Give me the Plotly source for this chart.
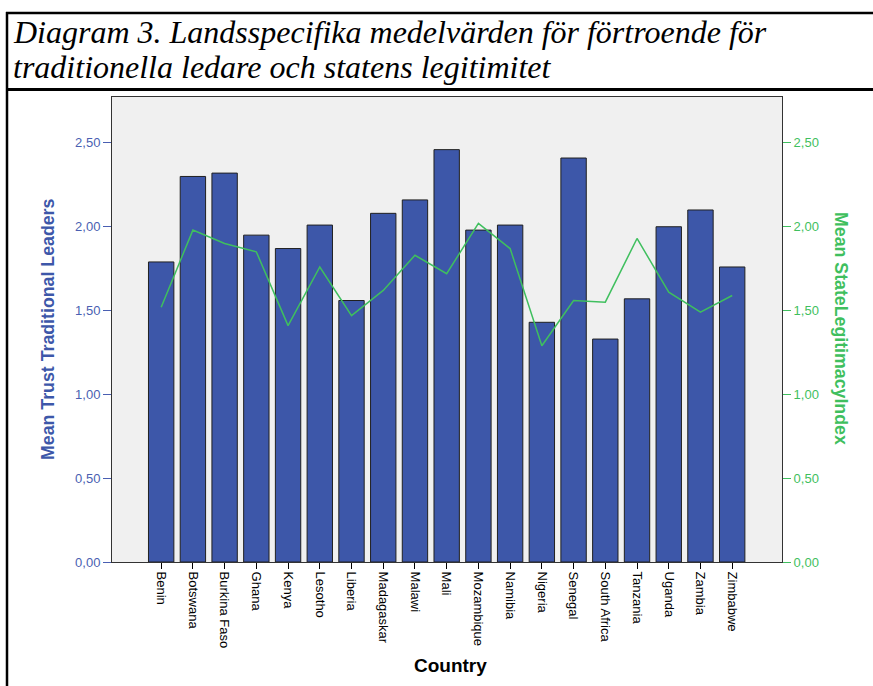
import plotly.graph_objects as go

countries = ["Benin", "Botswana", "Burkina Faso", "Ghana", "Kenya", "Lesotho", "Liberia",
             "Madagaskar", "Malawi", "Mali", "Mozambique", "Namibia", "Nigeria", "Senegal",
             "South Africa", "Tanzania", "Uganda", "Zambia", "Zimbabwe"]
trust_traditional = [1.79, 2.30, 2.32, 1.95, 1.87, 2.01, 1.56, 2.08, 2.16, 2.46,
                     1.98, 2.01, 1.43, 2.41, 1.33, 1.57, 2.00, 2.10, 1.76]
state_legitimacy = [1.52, 1.98, 1.90, 1.85, 1.41, 1.76, 1.47, 1.62, 1.83, 1.72,
                    2.02, 1.87, 1.29, 1.56, 1.55, 1.93, 1.61, 1.49, 1.59]
tick_vals = [0, 0.5, 1.0, 1.5, 2.0, 2.5]
tick_text = ["0,00", "0,50", "1,00", "1,50", "2,00", "2,50"]

W, H = 873, 686
L, R, T, B = 112, 91, 97, 124
PW = W - L - R
PH = H - T - B


def px2x(px):
    return (px - L) / PW


def py2y(py):
    return (H - B - py) / PH


BLUE = "#3d57a9"
BLUE_TXT = "#4a5fb2"
GREEN = "#3fbf5e"

fig = go.Figure()
fig.add_trace(go.Bar(
    x=countries, y=trust_traditional,
    marker=dict(color=BLUE, line=dict(color="#202020", width=1)),
    width=0.8, yaxis="y", showlegend=False,
))
fig.add_trace(go.Scatter(
    x=countries, y=state_legitimacy, mode="lines",
    line=dict(color=GREEN, width=1.5), yaxis="y2", showlegend=False,
))

yr = [0, 2.774]
fig.update_layout(
    width=W, height=H,
    margin=dict(l=L, r=R, t=T, b=B, autoexpand=False),
    paper_bgcolor="white", plot_bgcolor="#f0f0f0",
    font=dict(family="Liberation Sans, Arial", size=12, color="black"),
    xaxis=dict(
        range=[-1.55, 18 + 1.57], tickangle=90, ticks="outside", ticklen=6,
        tickcolor="black", showline=True, linecolor="#333333", linewidth=1,
        mirror=True, showgrid=False, tickfont=dict(size=13, color="black"),
    ),
    yaxis=dict(
        range=yr, tickvals=tick_vals, ticktext=tick_text, ticks="outside",
        ticklen=8, tickcolor=BLUE_TXT, showline=True, linecolor="#333333",
        linewidth=1, mirror=True, showgrid=False, zeroline=False,
        tickfont=dict(size=13, color=BLUE_TXT),
    ),
    yaxis2=dict(
        range=yr, tickvals=tick_vals, ticktext=tick_text, ticks="outside",
        ticklen=8, tickcolor=GREEN, overlaying="y", side="right",
        showline=False, showgrid=False, zeroline=False,
        tickfont=dict(size=13, color=GREEN),
    ),
    annotations=[
        dict(text="<i>Diagram 3. Landsspecifika medelvärden för förtroende för</i>",
             xref="paper", yref="paper", x=px2x(11), y=py2y(32), xanchor="left",
             yanchor="middle", showarrow=False,
             font=dict(family="Liberation Serif, Times New Roman", size=32, color="black")),
        dict(text="<i>traditionella ledare och statens legitimitet</i>",
             xref="paper", yref="paper", x=px2x(11), y=py2y(67), xanchor="left",
             yanchor="middle", showarrow=False,
             font=dict(family="Liberation Serif, Times New Roman", size=32, color="black")),
        dict(text="<b>Mean Trust Traditional Leaders</b>", xref="paper", yref="paper",
             x=px2x(48), y=py2y(329), textangle=-90, showarrow=False,
             xanchor="center", yanchor="middle",
             font=dict(size=17.75, color=BLUE)),
        dict(text="<b>Mean StateLegitimacyIndex</b>", xref="paper", yref="paper",
             x=px2x(841), y=py2y(328), textangle=90, showarrow=False,
             xanchor="center", yanchor="middle",
             font=dict(size=17.75, color=GREEN)),
        dict(text="<b>Country</b>", xref="paper", yref="paper",
             x=px2x(450), y=py2y(665), showarrow=False,
             xanchor="center", yanchor="middle",
             font=dict(size=19, color="black")),
    ],
    shapes=[
        dict(type="line", xref="paper", yref="paper", x0=px2x(6), x1=px2x(873),
             y0=py2y(13), y1=py2y(13), line=dict(color="black", width=2.5)),
        dict(type="line", xref="paper", yref="paper", x0=px2x(6), x1=px2x(873),
             y0=py2y(89.5), y1=py2y(89.5), line=dict(color="black", width=3)),
        dict(type="line", xref="paper", yref="paper", x0=px2x(7), x1=px2x(7),
             y0=py2y(12), y1=py2y(686), line=dict(color="black", width=2.5)),
    ],
)

fig.write_html("out.html", config={"displayModeBar": False},
               post_script="document.body.style.margin='0px';document.body.style.overflow='hidden';")
